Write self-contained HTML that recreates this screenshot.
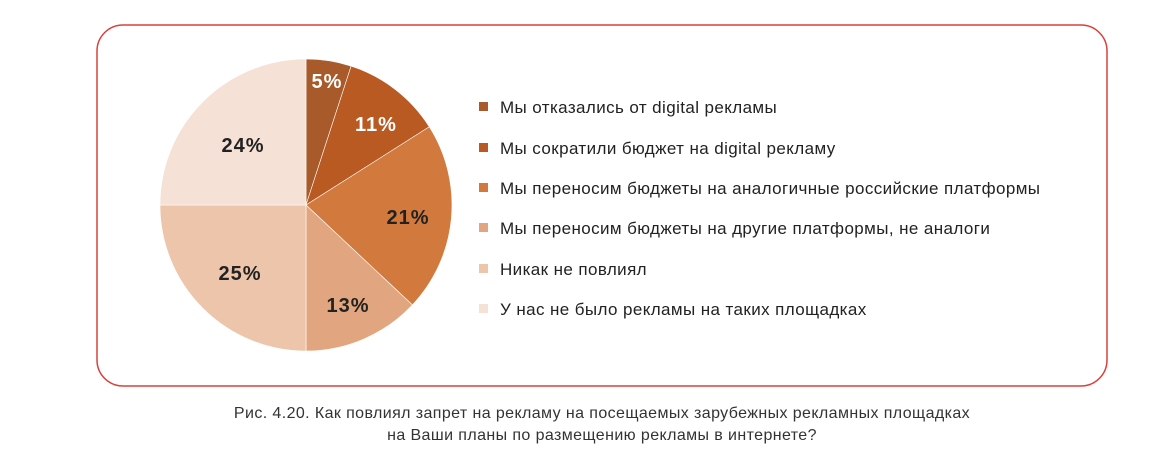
<!DOCTYPE html>
<html><head><meta charset="utf-8"><style>
html,body{margin:0;padding:0;background:#fff;width:1176px;height:454px;overflow:hidden}
</style></head><body>
<svg width="1176" height="454" xmlns="http://www.w3.org/2000/svg" font-family="'Liberation Sans', sans-serif">
<rect x="97" y="25" width="1010" height="361" rx="26" ry="26" fill="#fff" stroke="#d9403a" stroke-width="1.5"/>
<g stroke="#fff" stroke-width="0.6">
<path d="M306,205 L306,59 A146,146 0 0 1 351.1,66.1 Z" fill="#a85a2a"/>
<path d="M306,205 L351.1,66.1 A146,146 0 0 1 429.3,126.8 Z" fill="#b95a22"/>
<path d="M306,205 L429.3,126.8 A146,146 0 0 1 412.4,304.9 Z" fill="#d27a3e"/>
<path d="M306,205 L412.4,304.9 A146,146 0 0 1 306,351 Z" fill="#e1a67f"/>
<path d="M306,205 L306,351 A146,146 0 0 1 160,205 Z" fill="#ecc5aa"/>
<path d="M306,205 L160,205 A146,146 0 0 1 306,59 Z" fill="#f5e1d6"/>
</g>
<g font-weight="bold" font-size="20" letter-spacing="1" text-anchor="middle">
<text x="327" y="88" fill="#fff">5%</text>
<text x="376" y="131" fill="#fff">11%</text>
<text x="408" y="224" fill="#222">21%</text>
<text x="348" y="312" fill="#222">13%</text>
<text x="240" y="280" fill="#222">25%</text>
<text x="243" y="152" fill="#222">24%</text>
</g>
<g font-size="17" letter-spacing="0.4" fill="#222">
<rect x="479" y="102" width="9" height="9" fill="#a85a2a"/><text x="500" y="113">Мы отказались от digital рекламы</text>
<rect x="479" y="143" width="9" height="9" fill="#b95a22"/><text x="500" y="154">Мы сократили бюджет на digital рекламу</text>
<rect x="479" y="183" width="9" height="9" fill="#d27a3e"/><text x="500" y="194">Мы переносим бюджеты на аналогичные российские платформы</text>
<rect x="479" y="223" width="9" height="9" fill="#e1a67f"/><text x="500" y="234">Мы переносим бюджеты на другие платформы, не аналоги</text>
<rect x="479" y="264" width="9" height="9" fill="#ecc5aa"/><text x="500" y="275">Никак не повлиял</text>
<rect x="479" y="304" width="9" height="9" fill="#f5e1d6"/><text x="500" y="315">У нас не было рекламы на таких площадках</text>
</g>
<g font-size="16" letter-spacing="0.4" fill="#333" text-anchor="middle">
<text x="602" y="418">Рис. 4.20. Как повлиял запрет на рекламу на посещаемых зарубежных рекламных площадках</text>
<text x="602" y="440">на Ваши планы по размещению рекламы в интернете?</text>
</g>
</svg>
</body></html>
